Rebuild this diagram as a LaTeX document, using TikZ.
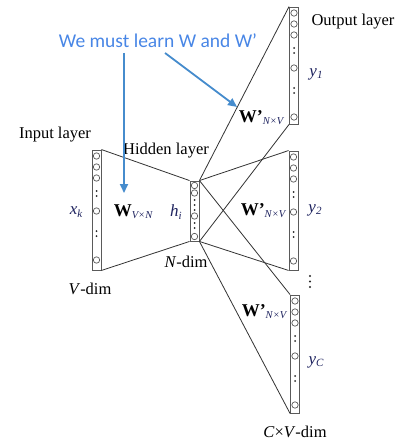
\documentclass[tikz,border=0pt]{standalone}
\usepackage{fontspec}
\setmainfont{Liberation Serif}
\newfontfamily\calib{Carlito}
\usetikzlibrary{arrows.meta}
\definecolor{learnblue}{RGB}{72,134,230}
\definecolor{arrowblue}{RGB}{70,140,205}
\definecolor{varnavy}{RGB}{30,35,95}
\definecolor{boxgray}{RGB}{90,90,90}
\newcommand{\Wlab}[2]{{\fontsize{18}{18}\selectfont\bfseries W#1}{\fontsize{10.5}{11}\selectfont\itshape\color{varnavy}\raisebox{-0.45ex}{#2}}}
\newcommand{\varlab}[2]{{\itshape #1}{\fontsize{11}{11}\selectfont\itshape\raisebox{-0.45ex}{#2}}}
\begin{document}
\begin{tikzpicture}[x=1pt,y=-1pt,
 lbox/.style={draw=boxgray, line width=0.9pt, minimum width=9pt, inner sep=0pt, fill=white},
 neuron/.style={circle, draw=boxgray, line width=0.7pt, minimum size=6.4pt, inner sep=0pt, fill=white},
 conn/.style={draw=black!80, line width=0.8pt},
 lbl/.style={font=\fontsize{16.5}{18}\selectfont, inner sep=0pt},
 var/.style={font=\fontsize{17}{18}\selectfont, text=varnavy, inner sep=0pt},
 wlbl/.style={inner sep=0pt},
 learn/.style={draw=arrowblue, line width=1.8pt, -{Triangle[length=9pt,width=8pt]}}
]
\useasboundingbox[fill=white] (0,0) rectangle (406,441);

% ---- layer boxes
\node[lbox, minimum height=120pt] (in)  at (96.5, 210) {};
\node[lbox, minimum height=60pt]  (hid) at (194.5, 211) {};
\node[lbox, minimum height=117pt] (o1)  at (294, 65.5) {};
\node[lbox, minimum height=119pt] (o2)  at (293.5, 210.5) {};
\node[lbox, minimum height=118pt] (o3)  at (295, 354) {};

% ---- connectors
\draw[conn] (in.north east) -- (hid.north west);
\draw[conn] (in.south east) -- (hid.south west);
\draw[conn] (hid.north east) -- (o1.north west);
\draw[conn] (hid.south east) -- (o1.south west);
\draw[conn] (hid.north east) -- (o2.north west);
\draw[conn] (hid.south east) -- (o2.south west);
\draw[conn] (hid.north east) -- (o3.north west);
\draw[conn] (hid.south east) -- (o3.south west);

% ---- neurons in the big columns
\foreach \x/\t in {96.5/150, 294/7, 293.5/151, 295/295}{
  \foreach \d in {6,17,28,61,110} \node[neuron] at (\x,\t+\d) {};
  \foreach \d in {41,46,81,86} \fill[black!85] (\x,\t+\d) circle (1pt);
}
% ---- hidden neurons
\foreach \d in {4.5,12,35,55.5} \node[neuron] at (194.5,181+\d) {};
\foreach \d in {19,24,29,42,47} \fill[black!85] (194.5,181+\d) circle (1pt);

% ---- vertical dots between output columns
\foreach \d in {276,281.5,287} \fill[black!85] (310,\d) circle (1.1pt);

% ---- labels
\node[lbl] (tin)  at (55,135) {Input layer};
\node[lbl] (thid) at (166,151) {Hidden layer};
\node[lbl] (tout) at (353,22) {Output layer};
\node[lbl] (tv)   at (90,289) {\textit{V}-dim};
\node[lbl] (tn)   at (186,262) {\textit{N}-dim};
\node[lbl] (tcv)  at (295,432) {\textit{C}×\textit{V}-dim};

\node[var] (xk) at (76,212) {\varlab{x}{k}};
\node[var] (hi) at (176,212) {\varlab{h}{i}};
\node[var] (y1) at (316,74) {\varlab{y}{1}};
\node[var] (y2) at (315,210) {\varlab{y}{2}};
\node[var] (yC) at (316,362) {\varlab{y}{C}};

\node[wlbl] (w)  at (133,212) {\Wlab{}{V×N}};
\node[wlbl] (w1) at (261,118) {\Wlab{'}{N×V}};
\node[wlbl] (w2) at (263,211) {\Wlab{'}{N×V}};
\node[wlbl] (w3) at (264,312) {\Wlab{'}{N×V}};

% ---- blue annotation
\node[inner sep=0pt, text=learnblue, font=\calib\fontsize{19.5}{21}\selectfont] (msg) at (158,41) {We must learn W and W’};
\coordinate (s1) at (165,53);
\coordinate (e1) at (237,107);
\coordinate (s2) at (124,53);
\coordinate (e2) at (124,193);
\draw[learn] (s1) -- (e1);
\draw[learn] (s2) -- (e2);
\end{tikzpicture}
\end{document}
